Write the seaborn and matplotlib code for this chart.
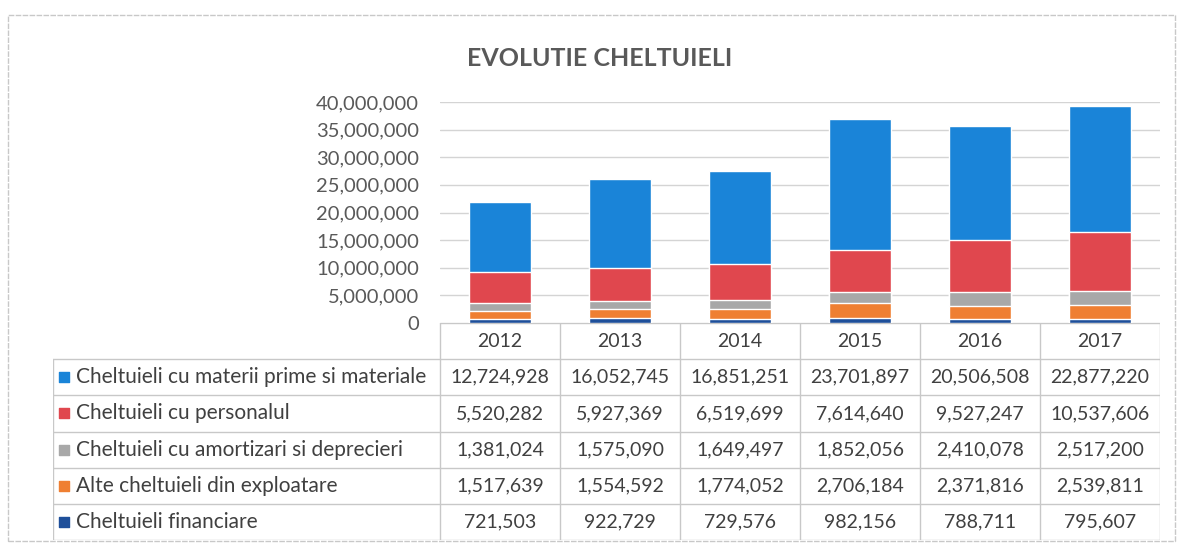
import matplotlib.pyplot as plt
import numpy as np
import pandas as pd
import seaborn as sns
from matplotlib.patches import Rectangle

YEARS = ["2012", "2013", "2014", "2015", "2016", "2017"]
SERIES = [
    "Cheltuieli cu materii prime si materiale",
    "Cheltuieli cu personalul",
    "Cheltuieli cu amortizari si deprecieri",
    "Alte cheltuieli din exploatare",
    "Cheltuieli financiare",
]
MATERII = [12724928, 16052745, 16851251, 23701897, 20506508, 22877220]
PERSONAL = [5520282, 5927369, 6519699, 7614640, 9527247, 10537606]
AMORTIZARI = [1381024, 1575090, 1649497, 1852056, 2410078, 2517200]
ALTE = [1517639, 1554592, 1774052, 2706184, 2371816, 2539811]
FINANCIARE = [721503, 922729, 729576, 982156, 788711, 795607]
COLORS = ["#1a84d8", "#e0474e", "#a8a8a8", "#ef7f32", "#1e4f9a"]
Y_TICKS = [0, 5000000, 10000000, 15000000, 20000000, 25000000, 30000000, 35000000, 40000000]

W, H = 1177, 544
TEXT = "#404040"
GRID = "#d4d4d4"


def fx(px):
    return px / W


def fy(py):
    return 1 - py / H


def main():
    sns.set_style("white")
    plt.rcParams["font.family"] = ["Lato", "DejaVu Sans"]

    values = [MATERII, PERSONAL, AMORTIZARI, ALTE, FINANCIARE]
    df = pd.DataFrame({name: vals for name, vals in zip(SERIES, values)}, index=YEARS)

    fig = plt.figure(figsize=(W / 100, H / 100), dpi=100)
    fig.patches.append(Rectangle((fx(8), fy(541)), fx(1175) - fx(8), fy(15) - fy(541),
                                 transform=fig.transFigure, fill=False,
                                 edgecolor="#c8c8c8", lw=1, ls=(0, (4, 1))))

    # chart area
    left, right, top, bottom = 440, 1160, 102, 323
    ax = fig.add_axes([fx(left), fy(bottom), fx(right) - fx(left), fy(top) - fy(bottom)])

    # stacked bars: draw cumulative totals from the top layer down
    stack_order = SERIES[::-1]  # bottom -> top
    cum = df[stack_order].cumsum(axis=1)
    for name in SERIES:
        color = COLORS[SERIES.index(name)]
        sns.barplot(x=YEARS, y=cum[name].values, color=color, saturation=1,
                    width=0.52, ax=ax, zorder=3)

    ax.set_xlim(-0.5, 5.5)
    ax.set_ylim(0, 40000000)
    ax.set_yticks(Y_TICKS)
    ax.set_yticklabels([f"{v:,}" for v in Y_TICKS])
    ax.tick_params(axis="y", length=0, pad=15, labelsize=14.5, labelcolor="#595959")
    ax.set_xticks([])
    ax.set_xlabel("")
    ax.set_ylabel("")
    ax.grid(axis="y", color=GRID, lw=1, zorder=0)
    for s in ax.spines.values():
        s.set_visible(False)

    fig.text(fx(600), fy(59), "EVOLUTIE CHELTUIELI", ha="center", va="center",
             fontsize=18, fontweight="bold", color="#595959")

    # data table below the chart
    tbl_left, tbl_bottom = 53, 540
    label_w = (left - tbl_left) / ((right - left) / 6)
    tax = fig.add_axes([fx(tbl_left), fy(tbl_bottom), fx(right) - fx(tbl_left), fy(bottom) - fy(tbl_bottom)])
    tax.set_xlim(-0.5 - label_w, 5.5)
    tax.set_ylim(6, 0)
    tax.axis("off")

    line_kw = dict(color="#c8c8c8", lw=1)
    for r in range(1, 7):
        tax.plot([-0.5 - label_w, 5.5], [r, r], **line_kw)
    tax.plot([-0.5, 5.5], [0, 0], **line_kw)
    for c in range(7):
        tax.plot([c - 0.5, c - 0.5], [0, 6], **line_kw)
    tax.plot([-0.5 - label_w, -0.5 - label_w], [1, 6], **line_kw)

    for i, year in enumerate(YEARS):
        tax.text(i, 0.5, year, ha="center", va="center", fontsize=14, color=TEXT)

    for r, (name, vals) in enumerate(zip(SERIES, values), start=1):
        tax.scatter([-0.5 - label_w + 0.09], [r + 0.5], marker="s", s=55,
                    color=COLORS[r - 1], clip_on=False)
        tax.text(-0.5 - label_w + 0.19, r + 0.5, name, ha="left", va="center",
                 fontsize=15, color=TEXT)
        for i, v in enumerate(vals):
            tax.text(i, r + 0.5, f"{v:,}", ha="center", va="center",
                     fontsize=14, color=TEXT)

    fig.savefig("out.png", dpi=100)
    plt.close(fig)


if __name__ == "__main__":
    main()
